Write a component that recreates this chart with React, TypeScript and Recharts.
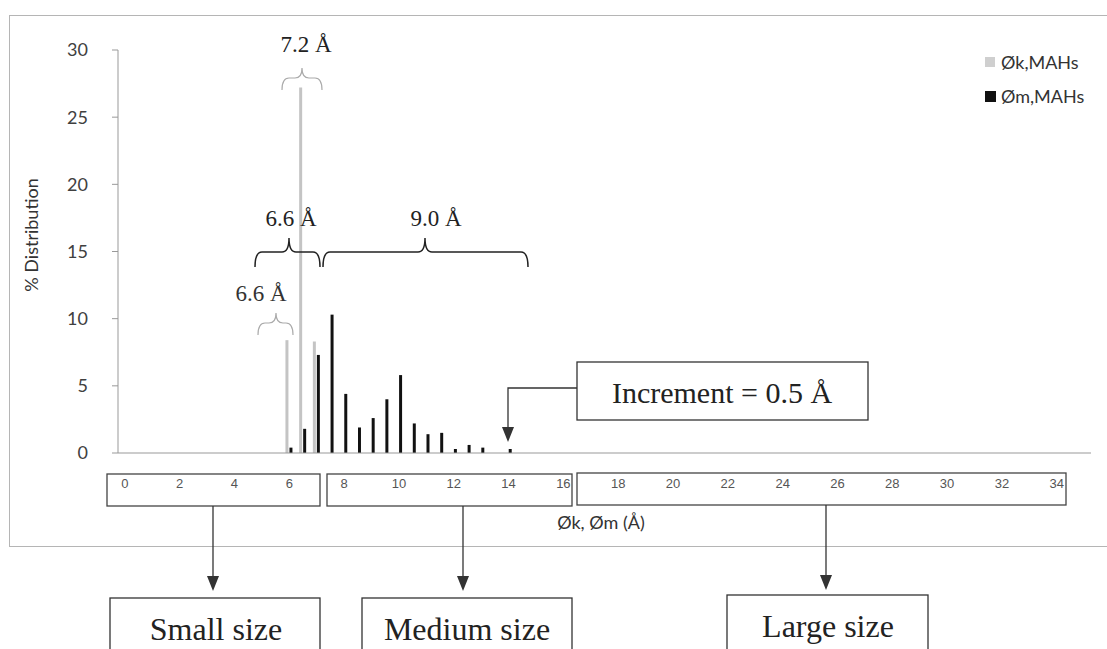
import React from 'react';
import { BarChart, Bar, XAxis, YAxis } from 'recharts';

// pore size categories, 0.5 Å increment
const sizes = [
  0, 0.5, 1, 1.5, 2, 2.5, 3, 3.5, 4, 4.5,
  5, 5.5, 6, 6.5, 7, 7.5, 8, 8.5, 9, 9.5,
  10, 10.5, 11, 11.5, 12, 12.5, 13, 13.5, 14, 14.5,
  15, 15.5, 16, 16.5, 17, 17.5, 18, 18.5, 19, 19.5,
  20, 20.5, 21, 21.5, 22, 22.5, 23, 23.5, 24, 24.5,
  25, 25.5, 26, 26.5, 27, 27.5, 28, 28.5, 29, 29.5,
  30, 30.5, 31, 31.5, 32, 32.5, 33, 33.5, 34, 34.5,
  35,
];

// Øk,MAHs (% distribution)
const phiK = [
  0, 0, 0, 0, 0, 0, 0, 0, 0, 0,
  0, 0, 8.4, 27.2, 8.3, 0, 0, 0, 0, 0,
  0, 0, 0, 0, 0, 0, 0, 0, 0, 0,
  0, 0, 0, 0, 0, 0, 0, 0, 0, 0,
  0, 0, 0, 0, 0, 0, 0, 0, 0, 0,
  0, 0, 0, 0, 0, 0, 0, 0, 0, 0,
  0, 0, 0, 0, 0, 0, 0, 0, 0, 0,
  0,
];

// Øm,MAHs (% distribution)
const phiM = [
  0, 0, 0, 0, 0, 0, 0, 0, 0, 0,
  0, 0, 0.4, 1.8, 7.3, 10.3, 4.4, 1.9, 2.6, 4.0,
  5.8, 2.2, 1.4, 1.5, 0.3, 0.6, 0.4, 0, 0.3, 0,
  0, 0, 0, 0, 0, 0, 0, 0, 0, 0,
  0, 0, 0, 0, 0, 0, 0, 0, 0, 0,
  0, 0, 0, 0, 0, 0, 0, 0, 0, 0,
  0, 0, 0, 0, 0, 0, 0, 0, 0, 0,
  0,
];

const yTicks = [0, 5, 10, 15, 20, 25, 30];

const data = sizes.map((s, i) => ({ size: s, k: phiK[i], m: phiM[i] }));

const SANS = 'Lato, "Open Sans", sans-serif';
const SERIF = '"Liberation Serif", "Times New Roman", serif';

const BoxTick = (props: any) => {
  const { x, y, payload } = props;
  return (
    <text x={x} y={y + 35} textAnchor="middle" fontSize={13} fontFamily='"Liberation Sans", Arial, sans-serif' fill="#555">
      {payload.value}
    </text>
  );
};

const LegendBox = () => (
  <div style={{ position: 'absolute', left: 985, top: 45, fontFamily: SANS, fontSize: 18, color: '#333', lineHeight: '34px' }}>
    <div style={{ display: 'flex', alignItems: 'center' }}>
      <span style={{ width: 10, height: 10, background: '#cfcfcf', marginRight: 6, display: 'inline-block' }} />
      Øk,MAHs
    </div>
    <div style={{ display: 'flex', alignItems: 'center' }}>
      <span style={{ width: 11, height: 11, background: '#111', marginRight: 5, display: 'inline-block' }} />
      Øm,MAHs
    </div>
  </div>
);

function brace(x1: number, x2: number, xm: number, yTip: number, yBody: number, yEnd: number) {
  const r = 7;
  return `M${x1},${yEnd} Q${x1},${yBody} ${x1 + r},${yBody} L${xm - r},${yBody} Q${xm},${yBody} ${xm},${yTip} Q${xm},${yBody} ${xm + r},${yBody} L${x2 - r},${yBody} Q${x2},${yBody} ${x2},${yEnd}`;
}

const DownArrow = ({ x, y1, y2 }: { x: number; y1: number; y2: number }) => (
  <g>
    <line x1={x} y1={y1} x2={x} y2={y2 - 14} stroke="#333" strokeWidth={1.3} />
    <polygon points={`${x - 6},${y2 - 15} ${x + 6},${y2 - 15} ${x},${y2}`} fill="#333" />
  </g>
);

const Overlay = () => (
  <svg width={1107} height={649} style={{ position: 'absolute', left: 0, top: 0, pointerEvents: 'none' }}>
    {/* chart frame */}
    <rect x={9.5} y={15.5} width={1110} height={531} fill="none" stroke="#b5b5b5" strokeWidth={1} />

    {/* y title */}
    <text transform="translate(38,235) rotate(-90)" textAnchor="middle" fontFamily={SANS} fontSize={18} fill="#333">
      % Distribution
    </text>
    {/* x title */}
    <text x={601} y={529} textAnchor="middle" fontFamily={SANS} fontSize={18} fill="#333">
      Øk, Øm (Å)
    </text>

    {/* size range boxes on the axis */}
    <rect x={107} y={474} width={213} height={32} fill="none" stroke="#444" strokeWidth={1.3} />
    <rect x={327} y={474} width={245} height={32} fill="none" stroke="#444" strokeWidth={1.3} />
    <rect x={577} y={473} width={489} height={32} fill="none" stroke="#444" strokeWidth={1.3} />

    <DownArrow x={213} y1={506} y2={591} />
    <DownArrow x={463} y1={506} y2={591} />
    <DownArrow x={826} y1={505} y2={590} />

    <rect x={110} y={598} width={210} height={70} fill="#fff" stroke="#333" strokeWidth={1.3} />
    <rect x={362} y={598} width={210} height={70} fill="#fff" stroke="#333" strokeWidth={1.3} />
    <rect x={727} y={595} width={201} height={70} fill="#fff" stroke="#333" strokeWidth={1.3} />
    <text x={216} y={640} textAnchor="middle" fontFamily={SERIF} fontSize={32} fill="#222">Small size</text>
    <text x={467} y={640} textAnchor="middle" fontFamily={SERIF} fontSize={32} fill="#222">Medium size</text>
    <text x={828} y={637} textAnchor="middle" fontFamily={SERIF} fontSize={32} fill="#222">Large size</text>

    {/* increment note */}
    <rect x={577} y={362} width={291} height={58} fill="#fff" stroke="#333" strokeWidth={1.3} />
    <text x={722} y={403} textAnchor="middle" fontFamily={SERIF} fontSize={30} fill="#222">Increment = 0.5 Å</text>
    <polyline points="577,388 508,388 508,428" fill="none" stroke="#333" strokeWidth={1.3} />
    <polygon points="502,427 514,427 508,442" fill="#333" />

    {/* braces */}
    <path d={brace(282, 322, 302, 68, 78, 90)} fill="none" stroke="#aaa" strokeWidth={1.2} />
    <text x={306} y={52} textAnchor="middle" fontFamily={SERIF} fontSize={23} fill="#222">7.2 Å</text>

    <path d={brace(255, 320, 289, 238, 252, 267)} fill="none" stroke="#222" strokeWidth={1.5} />
    <text x={291} y={226} textAnchor="middle" fontFamily={SERIF} fontSize={23} fill="#222">6.6 Å</text>

    <path d={brace(323, 528, 425, 238, 252, 267)} fill="none" stroke="#222" strokeWidth={1.5} />
    <text x={436} y={226} textAnchor="middle" fontFamily={SERIF} fontSize={23} fill="#222">9.0 Å</text>

    <path d={brace(258, 293, 276, 313, 323, 335)} fill="none" stroke="#aaa" strokeWidth={1.2} />
    <text x={261} y={301} textAnchor="middle" fontFamily={SERIF} fontSize={23} fill="#333">6.6 Å</text>
  </svg>
);

export default function App() {
  return (
    <div style={{ position: 'absolute', left: 0, top: 0, width: 1107, height: 649, background: '#fff', overflow: 'hidden' }}>
      <BarChart
        width={1107}
        height={649}
        data={data}
        margin={{ top: 50, right: 16, left: 58, bottom: 136 }}
        barGap={1}
      >
        <XAxis
          dataKey="size"
          type="category"
          interval={3}
          tickLine={false}
          tickSize={0}
          tickMargin={0}
          height={60}
          axisLine={{ stroke: '#999' }}
          tick={<BoxTick />}
        />
        <YAxis
          type="number"
          domain={[0, 30]}
          ticks={yTicks}
          width={60}
          tickSize={6}
          tickMargin={24}
          axisLine={{ stroke: '#999' }}
          tickLine={{ stroke: '#999' }}
          tick={{ fill: '#404040', fontSize: 18, fontFamily: SANS }}
        />
        <Bar dataKey="k" name="Øk,MAHs" fill="#c4c4c4" barSize={3} isAnimationActive={false} />
        <Bar dataKey="m" name="Øm,MAHs" fill="#111" barSize={3} isAnimationActive={false} />
      </BarChart>
      <LegendBox />
      <Overlay />
    </div>
  );
}
